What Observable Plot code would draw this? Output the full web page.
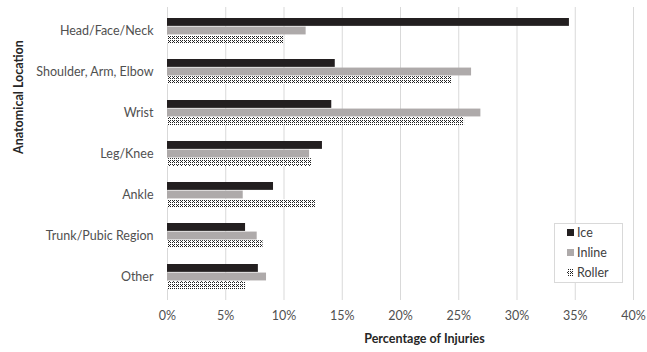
<!DOCTYPE html>
<html>
<head>
<meta charset="utf-8">
<script src="https://cdn.jsdelivr.net/npm/d3@7"></script>
<script src="https://cdn.jsdelivr.net/npm/@observablehq/plot@0.6"></script>
<style>
  body { margin: 0; background: #fff; }
  #chart { position: relative; width: 647px; height: 352px; font-family: Lato, "Open Sans", sans-serif; }
  #legend { position: absolute; left: 554px; top: 223px; }
</style>
</head>
<body>
<div id="chart"></div>
<script>
// Injury share (%) by anatomical location for each skate type
const locations = ["Head/Face/Neck", "Shoulder, Arm, Elbow", "Wrist", "Leg/Knee", "Ankle", "Trunk/Pubic Region", "Other"];
const seriesNames = ["Ice", "Inline", "Roller"];
const iceValues = [34.5, 14.4, 14.1, 13.3, 9.1, 6.7, 7.8];
const inlineValues = [11.9, 26.1, 26.9, 12.2, 6.5, 7.7, 8.5];
const rollerValues = [10.0, 24.4, 25.5, 12.4, 12.7, 8.2, 6.7];
const xTicks = [0, 5, 10, 15, 20, 25, 30, 35, 40];

const rows = [iceValues, inlineValues, rollerValues].flatMap((vals, s) =>
  vals.map((v, i) => ({location: locations[i], series: seriesNames[s], value: v}))
);

const W = 647, H = 352, mTop = 7, mBottom = 52, mLeft = 167, mRight = 14;
const padInner = 0.386;
const step = (H - mTop - mBottom) / locations.length;
const bar = step * (1 - padInner) / 3; // each series takes a third of the band

const fills = {Ice: "#231f20", Inline: "#aeaaaa", Roller: "url(#roller-dots)"};
const insets = {
  Ice: {insetTop: 0, insetBottom: 2 * bar},
  Inline: {insetTop: bar, insetBottom: bar},
  Roller: {insetTop: 2 * bar, insetBottom: 0}
};

const chart = Plot.plot({
  width: W, height: H,
  marginTop: mTop, marginBottom: mBottom, marginLeft: mLeft, marginRight: mRight,
  style: {fontFamily: "Lato, 'Open Sans', sans-serif", fontSize: "12.5px", color: "#595959", background: "#fff", overflow: "visible"},
  x: {domain: [0, 40], label: null},
  y: {domain: locations, paddingInner: padInner, paddingOuter: padInner / 2, label: null},
  marks: [
    Plot.ruleX(xTicks, {stroke: "#d9d9d9", strokeWidth: 1}),
    ...seriesNames.map(s =>
      Plot.barX(rows.filter(d => d.series === s), {
        x: "value", y: "location", fill: fills[s], ...insets[s]
      })
    ),
    Plot.axisX({ticks: xTicks, tickSize: 0, tickPadding: 11, tickFormat: d => d + "%", label: null, fill: "#505050"}),
    Plot.axisY({tickSize: 0, tickPadding: 14, label: null, fill: "#505050"}),
    Plot.text(["Percentage of Injuries"], {
      frameAnchor: "bottom", dx: 24, dy: 42, fontWeight: "bold", fontSize: 12.5, fill: "#262626"
    }),
    Plot.text(["Anatomical Location"], {
      frameAnchor: "left", dx: -149, rotate: -90, fontWeight: "bold", fontSize: 12.5, fill: "#262626"
    })
  ]
});

// Dotted fill used for the Roller series
const defs = d3.select(chart).insert("defs", ":first-child");
const pat = defs.append("pattern")
  .attr("id", "roller-dots").attr("patternUnits", "userSpaceOnUse")
  .attr("width", 4).attr("height", 4);
pat.append("rect").attr("width", 4).attr("height", 4).attr("fill", "#fff");
[[0, 0], [2, 0], [1, 1], [0, 2], [2, 2]].forEach(([x, y]) =>
  pat.append("rect").attr("x", x).attr("y", y).attr("width", 1).attr("height", 1).attr("fill", "#222")
);

const root = document.getElementById("chart");
root.appendChild(chart);

// Legend box
const legend = d3.select(root).append("svg").attr("id", "legend")
  .attr("width", 69).attr("height", 60)
  .style("font-family", "Lato, 'Open Sans', sans-serif").style("font-size", "12.5px");
legend.append("rect").attr("x", 0.5).attr("y", 0.5).attr("width", 68).attr("height", 59)
  .attr("fill", "#fff").attr("stroke", "#d9d9d9");
seriesNames.forEach((s, i) => {
  const cy = 9.5 + i * 20;
  legend.append("rect").attr("x", 13).attr("y", cy - 3.5).attr("width", 7).attr("height", 7).attr("fill", fills[s]);
  legend.append("text").attr("x", 23).attr("y", cy).attr("dy", "0.35em").attr("fill", "#404040").text(s);
});
</script>
</body>
</html>
